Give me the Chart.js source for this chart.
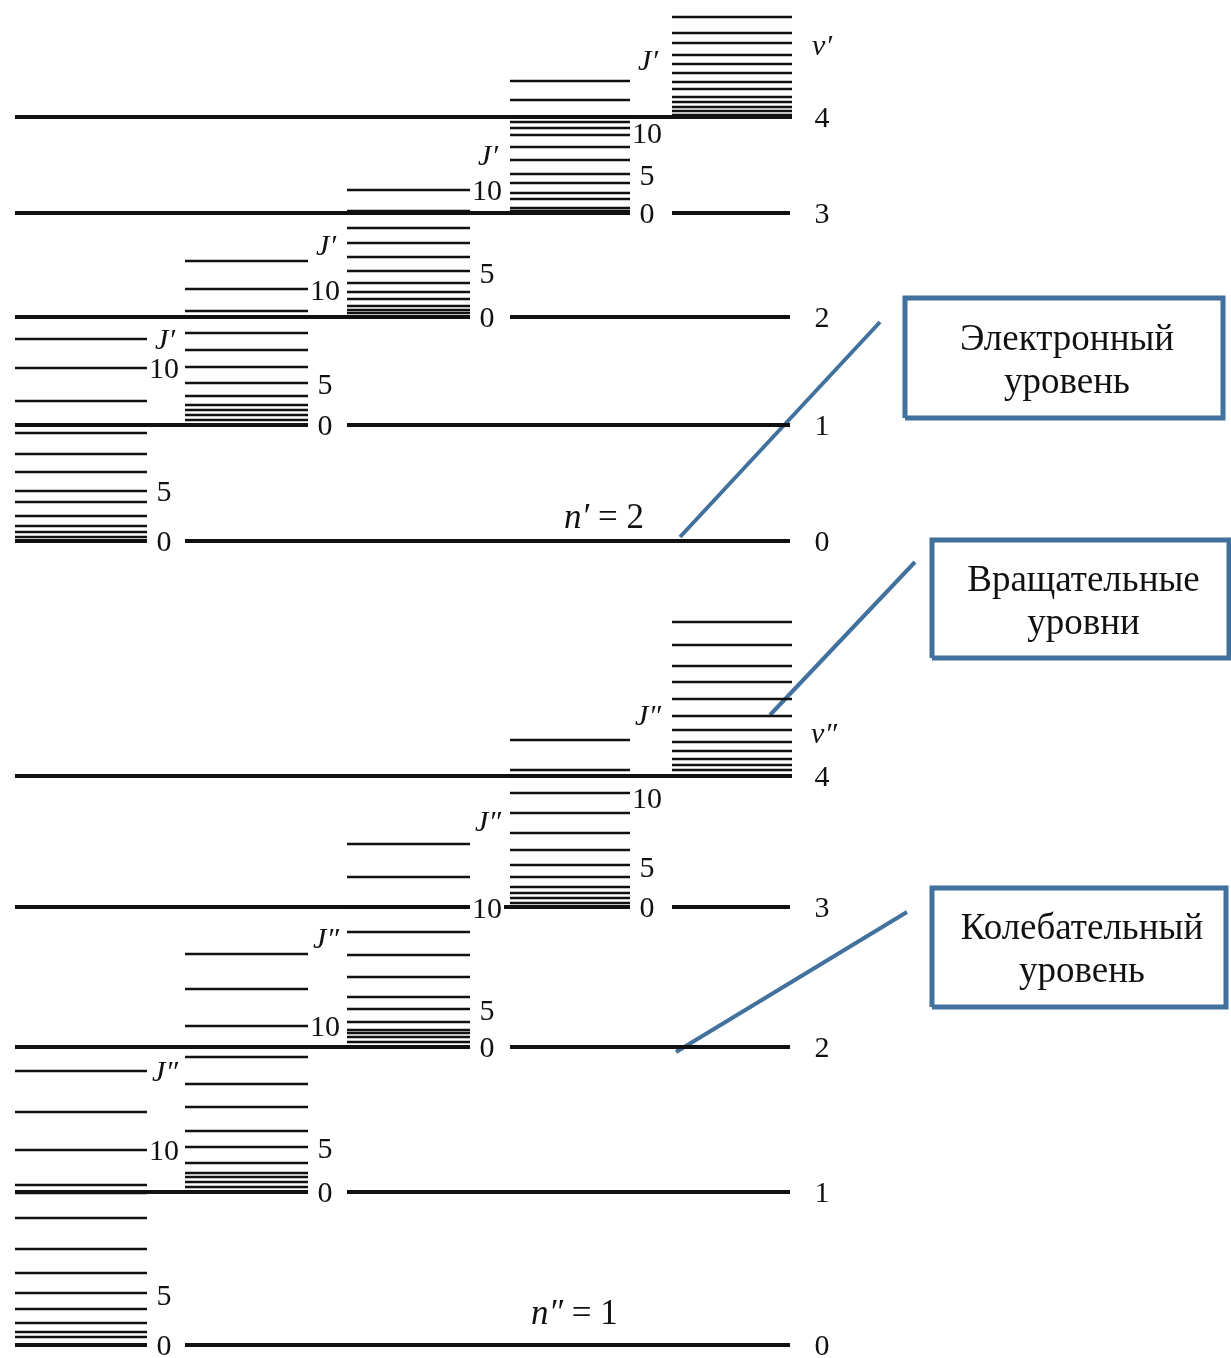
<!DOCTYPE html>
<html>
<head>
<meta charset="utf-8">
<script src="https://cdn.jsdelivr.net/npm/chart.js@4.4.1/dist/chart.umd.min.js"></script>
<style>
  html, body { margin: 0; padding: 0; background: #fff; }
  #wrap { width: 1231px; height: 1358px; }
</style>
</head>
<body>
<div id="wrap"><canvas id="mycanvas"></canvas></div>
<script>
// energies of the vibrational levels v = 0..4 (arbitrary units)
var upperVib = [817, 933, 1041, 1145, 1241];   // n' = 2
var lowerVib = [13, 166, 311, 451, 582];       // n'' = 1

// rotational levels J, as energy above their vibrational level (one list per v)
var upperRot = [
	[0, 4, 9, 15, 25, 39, 50, 69, 87, 108, 116, 140, 173, 202],
	[0, 5, 10, 15, 20, 29, 42, 58, 75, 92, 114, 136, 164],
	[0, 4, 7, 11, 18, 25, 34, 46, 60, 74, 89, 106, 127],
	[0, 2, 5, 14, 20, 30, 39, 53, 66, 78, 85, 91, 96, 113, 132],
	[0, 2, 6, 10, 15, 20, 28, 35, 44, 53, 62, 74, 84, 100]
];
var lowerRot = [
	[0, 8, 13, 22, 36, 52, 72, 96, 127, 152, 160, 195, 233, 274],
	[0, 5, 10, 15, 19, 29, 45, 61, 85, 108, 135, 166, 203, 238],
	[0, 5, 10, 14, 17, 25, 38, 50, 70, 92, 115, 140, 170, 203],
	[0, 4, 9, 14, 20, 30, 42, 57, 74, 94, 114, 137, 167],
	[0, 6, 11, 17, 25, 34, 46, 60, 77, 94, 110, 131, 154]
];

// J tick labels and where they sit (energy above the vibrational level)
var jTicks = ["0", "5", "10", "J"];
var upperJPos = [[0, 50, 173, 202], [0, 41, 135, 180], [0, 44, 127, 162], [0, 38, 80, 153]];
var lowerJPos = [[0, 50, 195, 274], [0, 44, 166, 254], [0, 37, 139, 226], [0, 40, 109, 192]];
var vTicks = ["0", "1", "2", "3", "4"];

// layout of the five columns of rotational stacks
var colLeft = [15, 185, 347, 510, 672];
var colRight = [147, 308, 470, 630, 792];
var lineEnd = 790;
var ink = '#111';
var blue = '#41719C';

var datasets = [];
function seg(x1, x2, e, w, color) {
	datasets.push({
		data: [{x: x1, y: e}, {x: x2, y: e}],
		borderColor: color || ink,
		borderWidth: w,
		borderCapStyle: 'butt',
		pointRadius: 0,
		showLine: true,
		fill: false
	});
}
function poly(pts, w, color) {
	datasets.push({
		data: pts.map(function(p){ return {x: p[0], y: p[1]}; }),
		borderColor: color,
		borderWidth: w,
		borderCapStyle: 'butt',
		borderJoinStyle: 'miter',
		pointRadius: 0,
		showLine: true,
		fill: false
	});
}

[[upperVib, upperRot], [lowerVib, lowerRot]].forEach(function(st){
	var vib = st[0], rot = st[1];
	for (var k = 0; k < 5; k++) {
		seg(15, colRight[k], vib[k], 4);
		if (k < 4) seg(colLeft[k + 1], lineEnd, vib[k], 4);
		for (var i = 0; i < rot[k].length; i++) {
			seg(colLeft[k], colRight[k], vib[k] + rot[k][i], 2.5);
		}
	}
});

// callouts: connector lines and boxes
var callouts = [
	{lines: ["Электронный", "уровень"], box: [905, 1223, 940, 1060], from: [880, 1036], to: [680, 821]},
	{lines: ["Вращательные", "уровни"], box: [932, 1229, 700, 818], from: [915, 796], to: [770, 643]},
	{lines: ["Колебательный", "уровень"], box: [932, 1226, 351, 470], from: [907, 446], to: [676, 306]}
];
callouts.forEach(function(c){
	poly([c.from, c.to], 4, blue);
	var b = c.box;
	poly([[b[0], b[2]], [b[1], b[2]], [b[1], b[3]], [b[0], b[3]], [b[0], b[2]]], 5, blue);
});

var textPlugin = {
	id: 'levelText',
	afterDatasetsDraw: function(chart) {
		var ctx = chart.ctx, sx = chart.scales.x, sy = chart.scales.y;
		function txt(s, x, e, font, dy, clear) {
			ctx.font = font;
			var px = sx.getPixelForValue(x), py = sy.getPixelForValue(e) + (dy || 0);
			if (clear) {
				var w = ctx.measureText(s).width;
				ctx.fillStyle = '#fff';
				ctx.fillRect(px - w / 2 - 2, py - 12, w + 4, 22);
				ctx.fillStyle = ink;
			}
			ctx.fillText(s, px, py);
		}
		ctx.save();
		ctx.fillStyle = ink;
		ctx.textAlign = 'center';
		ctx.textBaseline = 'middle';
		var num = '30px "Liberation Serif", serif';
		var ital = 'italic 30px "Liberation Serif", serif';
		[[upperVib, upperJPos, '\u2032'], [lowerVib, lowerJPos, '\u2033']].forEach(function(st){
			var vib = st[0], pos = st[1], pr = st[2];
			for (var k = 0; k < 4; k++) {
				for (var i = 0; i < jTicks.length; i++) {
					var t = jTicks[i];
					if (t === 'J') txt('J' + pr, colRight[k] + 18, vib[k] + pos[k][i], ital, 2);
					else txt(t, colRight[k] + 17, vib[k] + pos[k][i], num, 2, true);
				}
			}
			for (var v = 0; v < 5; v++) txt(vTicks[v], 822, vib[v], num, 2);
		});
		txt('v\u2032', 822, 1311, ital);
		txt('v\u2033', 824, 623, ital);
		// electronic state labels
		ctx.textAlign = 'left';
		var big = '35px "Liberation Serif", serif', bigI = 'italic 35px "Liberation Serif", serif';
		var nx = sx.getPixelForValue(564), ny = sy.getPixelForValue(839);
		ctx.font = bigI; ctx.fillText('n\u2032', nx, ny);
		var w = ctx.measureText('n\u2032').width;
		ctx.font = big; ctx.fillText(' = 2', nx + w, ny);
		nx = sx.getPixelForValue(531); ny = sy.getPixelForValue(43);
		ctx.font = bigI; ctx.fillText('n\u2033', nx, ny);
		w = ctx.measureText('n\u2033').width;
		ctx.font = big; ctx.fillText(' = 1', nx + w, ny);
		// callout texts
		ctx.textAlign = 'center';
		var boxFont = '37px "Liberation Serif", serif';
		callouts.forEach(function(c){
			var cx = (c.box[0] + c.box[1]) / 2 + 3;
			var cy = (c.box[2] + c.box[3]) / 2;
			ctx.font = boxFont;
			ctx.fillText(c.lines[0], sx.getPixelForValue(cx), sy.getPixelForValue(cy + 18));
			ctx.fillText(c.lines[1], sx.getPixelForValue(cx), sy.getPixelForValue(cy - 25));
		});
		ctx.restore();
	}
};

var ctx = document.getElementById('mycanvas');
var chart = new Chart(ctx, {
	type: 'scatter',
	data: { datasets: datasets },
	options: {
		responsive: true,
		maintainAspectRatio: false,
		animation: false,
		layout: { padding: 0 },
		plugins: { legend: { display: false }, tooltip: { enabled: false } },
		scales: {
			x: { type: 'linear', min: 0, max: 1231, display: false },
			y: { type: 'linear', min: 0, max: 1358, display: false }
		}
	},
	plugins: [textPlugin]
});
</script>
</body>
</html>
